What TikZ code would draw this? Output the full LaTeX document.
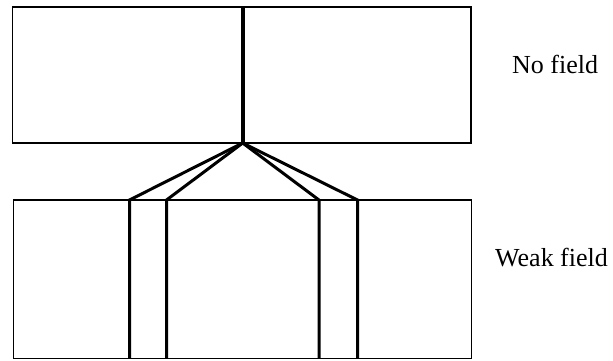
\documentclass[tikz,border=0pt]{standalone}
\usepackage{fontspec}
\setmainfont{Liberation Serif}
\begin{document}
\begin{tikzpicture}[x=1pt,y=-1pt,
  boxline/.style={draw=black,line width=1.5pt},
  thickline/.style={draw=black,line width=4pt},
  ray/.style={draw=black,line width=3pt,line join=miter},
  lbl/.style={anchor=base west,inner sep=0pt,font=\fontsize{26}{30}\selectfont}]
\useasboundingbox (0,0) rectangle (613,360);
% boxes
\draw[boxline] (12.7,7) rectangle (471,143);
\draw[boxline] (13.3,200) rectangle (471.5,358.5);
% named points
\coordinate (top) at (242.7,7);
\coordinate (apex) at (242.7,143);
\coordinate (a1) at (129.5,200);
\coordinate (a2) at (166.5,200);
\coordinate (a3) at (319,200);
\coordinate (a4) at (357.5,200);
\coordinate (b1) at (129.5,358.5);
\coordinate (b2) at (166.5,358.5);
\coordinate (b3) at (319,358.5);
\coordinate (b4) at (357.5,358.5);
% beam
\draw[thickline] (top) -- (apex);
\draw[ray] (apex) -- (a1) -- (b1);
\draw[ray] (apex) -- (a2) -- (b2);
\draw[ray] (apex) -- (a3) -- (b3);
\draw[ray] (apex) -- (a4) -- (b4);
% labels
\node[lbl] (nofield) at (512,73) {No field};
\node[lbl] (weakfield) at (495,266) {Weak field};
\end{tikzpicture}
\end{document}
